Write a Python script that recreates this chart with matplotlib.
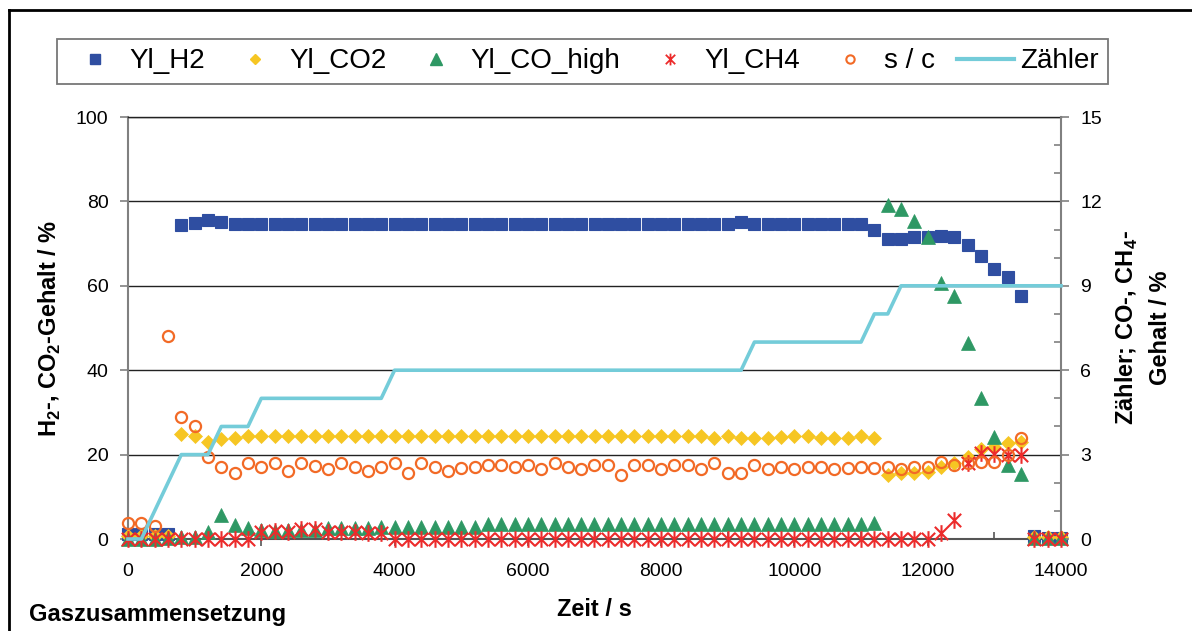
import matplotlib
matplotlib.use("Agg")
import matplotlib.pyplot as plt
from matplotlib.lines import Line2D
from matplotlib.path import Path
from matplotlib.ticker import MultipleLocator
import numpy as np

plt.rcParams['font.family'] = ['Liberation Sans', 'DejaVu Sans']
plt.rcParams['mathtext.fontset'] = 'custom'
plt.rcParams['mathtext.rm'] = 'Liberation Sans'
plt.rcParams['mathtext.bf'] = 'Liberation Sans:bold'

# ---------------- data ----------------
zeit = [0, 200, 400, 600, 800, 1000, 1200, 1400, 1600, 1800,
        2000, 2200, 2400, 2600, 2800, 3000, 3200, 3400, 3600, 3800,
        4000, 4200, 4400, 4600, 4800, 5000, 5200, 5400, 5600, 5800,
        6000, 6200, 6400, 6600, 6800, 7000, 7200, 7400, 7600, 7800,
        8000, 8200, 8400, 8600, 8800, 9000, 9200, 9400, 9600, 9800,
        10000, 10200, 10400, 10600, 10800, 11000, 11200, 11400, 11600, 11800,
        12000, 12200, 12400, 12600, 12800, 13000, 13200, 13400, 13600, 13800,
        14000]

yl_h2 = [1.2, 1.2, 1.2, 1.2, 74.3, 74.8, 75.6, 75.1, 74.7, 74.7,
         74.7, 74.7, 74.7, 74.7, 74.7, 74.7, 74.7, 74.7, 74.7, 74.7,
         74.7, 74.7, 74.7, 74.7, 74.7, 74.7, 74.7, 74.7, 74.7, 74.7,
         74.7, 74.7, 74.7, 74.7, 74.7, 74.7, 74.7, 74.7, 74.7, 74.7,
         74.7, 74.7, 74.7, 74.7, 74.7, 74.7, 75.1, 74.7, 74.7, 74.7,
         74.7, 74.7, 74.7, 74.7, 74.7, 74.7, 73.3, 71.0, 71.0, 71.5,
         71.5, 71.9, 71.5, 69.7, 67.1, 63.9, 62.0, 57.6, 0.6, 0.3,
         0.3]

yl_co2 = [0.6, 0.6, 0.6, 0.6, 24.9, 24.4, 23.1, 23.6, 24.0, 24.4,
          24.4, 24.4, 24.4, 24.4, 24.4, 24.4, 24.4, 24.4, 24.4, 24.4,
          24.4, 24.4, 24.4, 24.4, 24.4, 24.4, 24.4, 24.4, 24.4, 24.4,
          24.4, 24.4, 24.4, 24.4, 24.4, 24.4, 24.4, 24.4, 24.4, 24.4,
          24.4, 24.4, 24.4, 24.4, 23.9, 24.4, 23.9, 23.9, 23.9, 24.1,
          24.4, 24.4, 23.9, 23.9, 23.9, 24.4, 24.0, 15.2, 15.6, 15.7,
          15.9, 17.1, 17.9, 19.5, 21.3, 21.9, 22.7, 23.1, 0.5, 0.5,
          0.5]

yl_co_high = [0.0, 0.0, 0.0, 0.05, 0.08, 0.08, 0.26, 0.85, 0.5, 0.38,
              0.32, 0.3, 0.32, 0.32, 0.32, 0.38, 0.38, 0.38, 0.38, 0.44,
              0.44, 0.44, 0.44, 0.44, 0.44, 0.44, 0.44, 0.52, 0.52, 0.52,
              0.52, 0.52, 0.52, 0.52, 0.52, 0.52, 0.52, 0.52, 0.52, 0.52,
              0.52, 0.52, 0.52, 0.52, 0.52, 0.52, 0.52, 0.52, 0.52, 0.52,
              0.52, 0.52, 0.52, 0.52, 0.52, 0.52, 0.58, 11.87, 11.72, 11.3,
              10.72, 9.09, 8.64, 6.96, 5.0, 3.64, 2.63, 2.3, 0.05, 0.05,
              0.05]

yl_ch4 = [0.0, 0.0, 0.0, 0.0, 0.0, 0.0, 0.0, 0.0, 0.0, 0.0,
          0.26, 0.3, 0.26, 0.34, 0.34, 0.26, 0.26, 0.26, 0.2, 0.2,
          0.0, 0.0, 0.0, 0.0, 0.0, 0.0, 0.0, 0.0, 0.0, 0.0,
          0.0, 0.0, 0.0, 0.0, 0.0, 0.0, 0.0, 0.0, 0.0, 0.0,
          0.0, 0.0, 0.0, 0.0, 0.0, 0.0, 0.0, 0.0, 0.0, 0.0,
          0.0, 0.0, 0.0, 0.0, 0.0, 0.0, 0.0, 0.0, 0.0, 0.0,
          0.0, 0.2, 0.68, 2.69, 3.05, 3.02, 2.99, 2.99, 0.0, 0.0,
          0.0]

s_c = [0.56, 0.56, 0.46, 7.22, 4.33, 4.03, 2.90, 2.57, 2.36, 2.69,
       2.57, 2.69, 2.43, 2.69, 2.61, 2.48, 2.69, 2.55, 2.42, 2.57,
       2.69, 2.36, 2.69, 2.55, 2.43, 2.51, 2.57, 2.63, 2.63, 2.55,
       2.63, 2.48, 2.71, 2.55, 2.48, 2.63, 2.63, 2.28, 2.63, 2.63,
       2.48, 2.63, 2.63, 2.48, 2.71, 2.36, 2.36, 2.63, 2.48, 2.55,
       2.48, 2.55, 2.55, 2.48, 2.51, 2.55, 2.51, 2.55, 2.48, 2.55,
       2.55, 2.75, 2.63, 2.69, 2.75, 2.75, 2.99, 3.58, np.nan, np.nan,
       np.nan]

zaehler = [0, 0, 1, 2, 3, 3, 3, 4, 4, 4,
           5, 5, 5, 5, 5, 5, 5, 5, 5, 5,
           6, 6, 6, 6, 6, 6, 6, 6, 6, 6,
           6, 6, 6, 6, 6, 6, 6, 6, 6, 6,
           6, 6, 6, 6, 6, 6, 6, 7, 7, 7,
           7, 7, 7, 7, 7, 7, 8, 8, 9, 9,
           9, 9, 9, 9, 9, 9, 9, 9, 9, 9,
           9]

labels = ['Yl_H2', 'Yl_CO2', 'Yl_CO_high', 'Yl_CH4', 's / c', 'Zähler']

# ---------------- style ----------------
c_blue = '#2F4EA1'
c_yellow = '#F6C623'
c_green = '#2E9864'
c_red = '#EC2B2B'
c_orange = '#F26A26'
c_cyan = '#74CCD9'

star = Path([(0, -1), (0, 1), (-0.8, -0.8), (0.8, 0.8), (-0.8, 0.8), (0.8, -0.8)],
            [Path.MOVETO, Path.LINETO, Path.MOVETO, Path.LINETO, Path.MOVETO, Path.LINETO])

W, H = 1192, 631
fig = plt.figure(figsize=(W / 100, H / 100), dpi=100)
ax = fig.add_axes([128 / W, 1 - 539 / H, (1061 - 128) / W, (539 - 117) / H])
ax2 = ax.twinx()

ax.set_xlim(0, 14000)
ax.set_ylim(0, 100)
ax2.set_ylim(0, 15)

ax.set_xticks(range(0, 14001, 2000))
ax.xaxis.set_minor_locator(MultipleLocator(1000))
ax.set_yticks(range(0, 101, 20))
ax2.set_yticks(range(0, 16, 3))
ax2.yaxis.set_minor_locator(MultipleLocator(1))

ax.yaxis.grid(True, color='#222222', lw=1.0)
ax.set_axisbelow(True)

ax.spines['right'].set_visible(False)
ax.spines['top'].set_color('#222222')
ax.spines['top'].set_linewidth(1.0)
ax.spines['left'].set_color('#808080')
ax.spines['left'].set_linewidth(1.5)
ax.spines['bottom'].set_color('#555555')
ax.spines['bottom'].set_linewidth(1.5)
for s in ['top', 'left', 'bottom']:
    ax2.spines[s].set_visible(False)
ax2.spines['right'].set_color('#808080')
ax2.spines['right'].set_linewidth(1.5)

ax.tick_params(axis='x', which='major', direction='out', length=5, width=1.2,
               color='#555555', pad=12, labelsize=14)
ax.tick_params(axis='x', which='minor', direction='in', length=5, width=1.2,
               color='#555555')
ax.tick_params(axis='y', which='major', direction='out', length=6, width=1.2,
               color='#808080', pad=8, labelsize=14)
ax2.tick_params(axis='y', which='major', direction='out', length=6, width=1.2,
                color='#808080', pad=8, labelsize=14)
ax2.tick_params(axis='y', which='minor', direction='in', length=5, width=1.2,
                color='#808080')

ax.plot(zeit, yl_h2, ls='none', marker='s', ms=9, mfc=c_blue, mec=c_blue,
        mew=0.8, clip_on=False, zorder=3)
ax.plot(zeit, yl_co2, ls='none', marker='D', ms=7.6, mfc=c_yellow, mec=c_yellow,
        mew=0.5, clip_on=False, zorder=4)
ax2.plot(zeit, yl_co_high, ls='none', marker='^', ms=10, mfc=c_green, mec=c_green,
         mew=0.5, clip_on=False, zorder=3)
ax2.plot(zeit, yl_ch4, ls='none', marker=star, ms=12, mfc='none', mec=c_red,
         mew=1.5, clip_on=False, zorder=4)
ax2.plot(zeit, s_c, ls='none', marker='o', ms=8, mfc='none', mec=c_orange,
         mew=1.6, clip_on=False, zorder=5)
ax2.plot(zeit, zaehler, color=c_cyan, lw=2.6, clip_on=False, zorder=6)

# ---------------- legend ----------------
handles = [
    Line2D([], [], ls='none', marker='s', ms=7, mfc=c_blue, mec=c_blue),
    Line2D([], [], ls='none', marker='D', ms=5.5, mfc=c_yellow, mec=c_yellow),
    Line2D([], [], ls='none', marker='^', ms=8, mfc=c_green, mec=c_green),
    Line2D([], [], ls='none', marker=star, ms=8.5, mfc='none', mec=c_red, mew=1.3),
    Line2D([], [], ls='none', marker='o', ms=6, mfc='none', mec=c_orange, mew=1.5),
    Line2D([], [], color=c_cyan, lw=3),
]
leg = fig.legend(handles, labels, loc='center',
                 bbox_to_anchor=(57 / W, 1 - 87 / H, (1108 - 57) / W, 51 / H),
                 mode='expand', ncol=6, fontsize=20, frameon=True, fancybox=False,
                 edgecolor='#555555', borderaxespad=0, handlelength=2.05,
                 handletextpad=0.2, borderpad=0.35)
leg.get_frame().set_linewidth(1.3)

# ---------------- labels ----------------
fig.text(50 / W, 1 - 328 / H, 'H$_\\mathbf{2}$-, CO$_\\mathbf{2}$-Gehalt / %',
         rotation=90, ha='center', va='center', fontsize=17, fontweight='bold')
fig.text(1143 / W, 1 - 328 / H, 'Zähler; CO-, CH$_\\mathbf{4}$-\nGehalt / %',
         rotation=90, ha='center', va='center', multialignment='center',
         fontsize=17, fontweight='bold', linespacing=1.5)
fig.text(594 / W, 1 - 609 / H, 'Zeit / s', ha='center', va='center',
         fontsize=17, fontweight='bold')
fig.text(29 / W, 1 - 615 / H, 'Gaszusammensetzung', ha='left', va='center',
         fontsize=17, fontweight='bold')

# outer frame (top and left edges visible)
fig.add_artist(Line2D([9 / W, 9 / W], [0, 1 - 10 / H], transform=fig.transFigure,
                      color='black', lw=2))
fig.add_artist(Line2D([9 / W, 1], [1 - 10 / H, 1 - 10 / H], transform=fig.transFigure,
                      color='black', lw=2))

fig.savefig('out.png', dpi=100)
